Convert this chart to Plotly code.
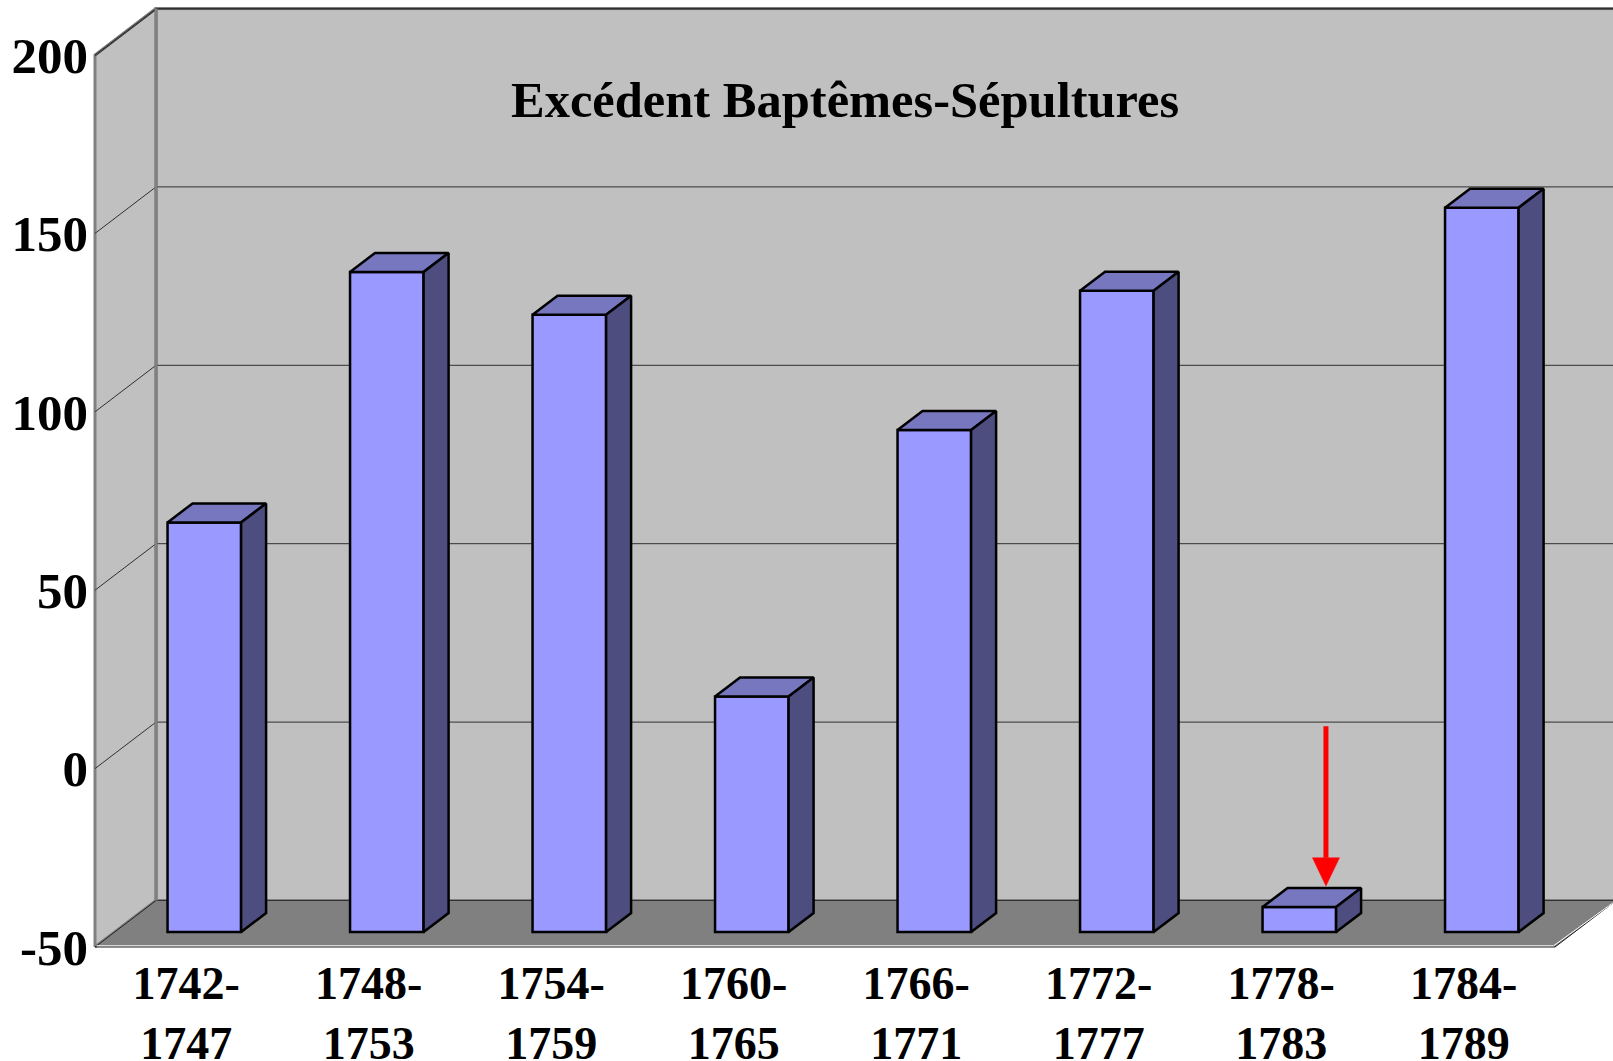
import plotly.graph_objects as go

# --- Data ---
categories = ["1742-<br>1747", "1748-<br>1753", "1754-<br>1759", "1760-<br>1765",
              "1766-<br>1771", "1772-<br>1777", "1778-<br>1783", "1784-<br>1789"]
values = [64.8, 135, 123, 16, 90.7, 129.7, -43, 153]
y_ticks = [-50, 0, 50, 100, 150, 200]
title_text = "Excédent Baptêmes-Sépultures"
arrow_category = 6.646
arrow_from, arrow_neck, arrow_tip = 7.7, -29.2, -37.1

# --- Geometry in axis units ---
FLOOR = -50
W, H = 1613, 1061
L, B = 90, 111
PX_X, PX_Y = 182.5, 3.568          # pixels per axis unit
xr = [-(95 - L) / PX_X, (W - 95) / PX_X]
yr = [FLOOR - ((H - B) - 947) / PX_Y, 200 + 55 / PX_Y]
WALL_DX, WALL_DY = 61 / PX_X, 46.5 / PX_Y
BAR_DX, BAR_DY = 25 / PX_X, 19 / PX_Y
PLANE_DX, PLANE_DY = 0.099, 4.2     # bar plane vs. front plane
BAR_W = 0.403
N = len(categories)
centers = [i + 0.5 for i in range(N)]

WALL, FLOORC, EDGE = "#C0C0C0", "#808080", "#808080"
FRONT, TOP, SIDE = "#9999FF", "#7777C0", "#4D4D80"
SERIF = "Liberation Serif"

fig = go.Figure()

def poly(x, y, fill, line, w, xa="x", ya="y"):
    fig.add_trace(go.Scatter(x=x + x[:1], y=y + y[:1], mode="lines", fill="toself",
                             fillcolor=fill, line=dict(color=line, width=w),
                             xaxis=xa, yaxis=ya, hoverinfo="skip", showlegend=False))

def seg(x, y, color, w, xa="x", ya="y"):
    fig.add_trace(go.Scatter(x=x, y=y, mode="lines", line=dict(color=color, width=w),
                             xaxis=xa, yaxis=ya, hoverinfo="skip", showlegend=False))

top, xmax = y_ticks[-1], xr[1] + 0.1
# back wall and left wall
poly([WALL_DX, xmax, xmax, WALL_DX], [FLOOR + WALL_DY, FLOOR + WALL_DY, top + WALL_DY, top + WALL_DY], WALL, EDGE, 3)
poly([0, WALL_DX, WALL_DX, 0], [FLOOR, FLOOR + WALL_DY, top + WALL_DY, top], WALL, EDGE, 3)
# grid lines
for v in y_ticks[1:]:
    seg([0, WALL_DX, xmax], [v, v + WALL_DY, v + WALL_DY], "#303030", 1)
seg([WALL_DX, xmax], [top + WALL_DY - 0.3] * 2, "#505050", 1)
seg([0, WALL_DX], [top - 0.3, top + WALL_DY - 0.3], "#303030", 1)
# floor
poly([0, N, N + WALL_DX, xmax, xmax, WALL_DX], [FLOOR, FLOOR, FLOOR + WALL_DY, FLOOR + WALL_DY, FLOOR + WALL_DY, FLOOR + WALL_DY],
     FLOORC, "#202020", 1)
seg([WALL_DX, xmax], [FLOOR + WALL_DY] * 2, "#303030", 1)
seg([WALL_DX, WALL_DX], [FLOOR + WALL_DY, top + WALL_DY], EDGE, 3)
# light rim just inside the floor's front and right edges
rim_dx, rim_dy = 1.5 / PX_X, 1.2 / PX_Y
seg([rim_dx, N - rim_dx, N + WALL_DX - rim_dx], [FLOOR + rim_dy, FLOOR + rim_dy, FLOOR + WALL_DY - rim_dy], "#FFFFFF", 1)

# bars in their own plane (overlay axes, shifted to the bar plane)
fig.add_trace(go.Bar(x=centers, y=[v - FLOOR for v in values], base=FLOOR, width=BAR_W,
                     marker=dict(color=FRONT, line=dict(color="black", width=2.5)),
                     xaxis="x2", yaxis="y2", hoverinfo="skip", showlegend=False))
for c, v in zip(centers, values):
    x0, x1 = c - BAR_W / 2, c + BAR_W / 2
    poly([x0, x1, x1 + BAR_DX, x0 + BAR_DX], [v, v, v + BAR_DY, v + BAR_DY], TOP, "black", 2.5, "x2", "y2")
    poly([x1, x1 + BAR_DX, x1 + BAR_DX, x1], [FLOOR, FLOOR + BAR_DY, v + BAR_DY, v], SIDE, "black", 2.5, "x2", "y2")

# red arrow
seg([arrow_category] * 2, [arrow_from, arrow_neck], "#FF0000", 5, "x2", "y2")
poly([arrow_category - 0.074, arrow_category + 0.074, arrow_category], [arrow_neck, arrow_neck, arrow_tip],
     "#FF0000", "#FF0000", 0.5, "x2", "y2")

fig.update_layout(
    width=W, height=H, autosize=False,
    margin=dict(l=L, r=0, t=0, b=B, pad=0),
    paper_bgcolor="white", plot_bgcolor="white",
    showlegend=False, barmode="overlay",
    font=dict(family=SERIF, color="black"),
    xaxis=dict(range=xr, tickmode="array", tickvals=centers, ticktext=categories, automargin=False,
               showgrid=False, zeroline=False, showline=False, ticks="", ticklabelstandoff=2,
               tickangle=0, tickfont=dict(family=SERIF, size=46, color="black", weight="bold")),
    yaxis=dict(range=yr, tickmode="array", tickvals=y_ticks, ticktext=[str(t) for t in y_ticks], automargin=False,
               showgrid=False, zeroline=False, showline=False, ticks="", ticklabelstandoff=1,
               tickfont=dict(family=SERIF, size=51, color="black", weight="bold")),
    xaxis2=dict(range=[xr[0] - PLANE_DX, xr[1] - PLANE_DX], overlaying="x", visible=False),
    yaxis2=dict(range=[yr[0] - PLANE_DY, yr[1] - PLANE_DY], overlaying="y", visible=False),
    annotations=[dict(text="<b>" + title_text + "</b>", xref="paper", yref="paper",
                      x=(844.5 - L) / (W - L), y=1 - 100 / (H - B), xanchor="center", yanchor="middle",
                      showarrow=False, font=dict(family=SERIF, size=50.5, color="black"))],
)
fig.write_html("out.html", config={"displayModeBar": False},
               post_script="document.body.style.margin='0';document.body.style.overflow='hidden';")
